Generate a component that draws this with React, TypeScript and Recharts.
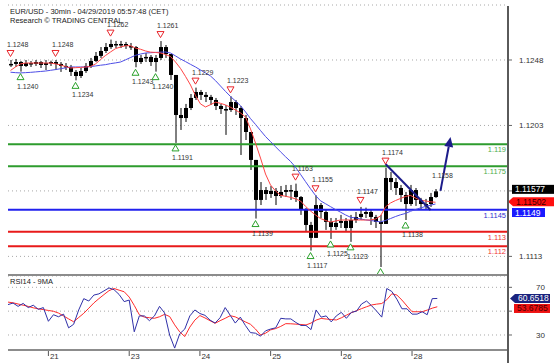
import React from 'react'
import { ComposedChart, Bar, Line, XAxis, YAxis, CartesianGrid, ReferenceLine } from 'recharts'

// EUR/USD 30min candles, sampled at a coarser step (close / high / low)
const CLOSE = [
  1.12453, 1.12466, 1.12439, 1.12459, 1.12453, 1.12466, 1.12446, 1.12459, 1.12466, 1.12453,
  1.12439, 1.12432, 1.12398, 1.1237, 1.12404, 1.12439, 1.12473, 1.12508, 1.12542, 1.12569,
  1.1259, 1.12583, 1.1259, 1.12576, 1.12569, 1.12466, 1.12494, 1.12501, 1.12466, 1.12494,
  1.12569, 1.12521, 1.12377, 1.12102, 1.12081, 1.1215, 1.12219, 1.1226, 1.1224, 1.12226,
  1.12205, 1.12164, 1.12143, 1.12136, 1.12191, 1.1215, 1.12081, 1.11985, 1.11793, 1.11518,
  1.11586, 1.11559, 1.1158, 1.11545, 1.11573, 1.11586, 1.1158, 1.11538, 1.11449, 1.11346,
  1.11257, 1.11483, 1.11435, 1.11367, 1.11332, 1.1136, 1.11373, 1.11325, 1.1138, 1.11401,
  1.11422, 1.11435, 1.11401, 1.11367, 1.11353, 1.11669, 1.11641, 1.116, 1.11552, 1.1149,
  1.11586, 1.11518, 1.1149, 1.1149, 1.11538, 1.11577,
]
const HIGH = [
  1.1248, 1.12487, 1.12473, 1.1248, 1.12473, 1.1248, 1.12473, 1.1248, 1.12475, 1.1248,
  1.12466, 1.12459, 1.12446, 1.12411, 1.12425, 1.12459, 1.12494, 1.12535, 1.12569, 1.12597,
  1.1262, 1.12611, 1.12611, 1.12604, 1.12597, 1.12576, 1.12514, 1.12528, 1.12514, 1.12514,
  1.1261, 1.12583, 1.12521, 1.12377, 1.1215, 1.12178, 1.12246, 1.1229, 1.12274, 1.1226,
  1.1224, 1.12219, 1.12178, 1.12171, 1.1223, 1.12205, 1.12164, 1.12102, 1.11985, 1.11793,
  1.11641, 1.11607, 1.11614, 1.116, 1.11614, 1.11621, 1.11621, 1.1163, 1.11545, 1.11463,
  1.11367, 1.1155, 1.11497, 1.11449, 1.11394, 1.11394, 1.11415, 1.11394, 1.11415, 1.11435,
  1.1147, 1.11465, 1.11449, 1.11415, 1.11415, 1.1174, 1.1171, 1.11669, 1.11621, 1.11573,
  1.11621, 1.116, 1.11532, 1.11525, 1.11566, 1.11593,
]
const LOW = [
  1.12432, 1.12432, 1.124, 1.12432, 1.12432, 1.12439, 1.12425, 1.12411, 1.12439, 1.12411,
  1.12398, 1.12411, 1.1237, 1.1234, 1.12356, 1.12391, 1.12425, 1.12466, 1.12494, 1.12528,
  1.12556, 1.12562, 1.12562, 1.12556, 1.12549, 1.1243, 1.12453, 1.12466, 1.12439, 1.124,
  1.1248, 1.12494, 1.12343, 1.1191, 1.11999, 1.12054, 1.12136, 1.12205, 1.12205, 1.12191,
  1.12171, 1.12136, 1.12109, 1.11965, 1.12123, 1.12102, 1.11827, 1.1193, 1.11724, 1.1139,
  1.11483, 1.11518, 1.11532, 1.11483, 1.11532, 1.11538, 1.11518, 1.11504, 1.11415, 1.11298,
  1.1117, 1.11257, 1.11394, 1.11312, 1.1125, 1.11312, 1.11325, 1.113, 1.1123, 1.1136,
  1.1138, 1.11394, 1.11346, 1.11325, 1.11057, 1.11353, 1.11586, 1.11552, 1.11504, 1.1138,
  1.11477, 1.11477, 1.11449, 1.11456, 1.1147, 1.11532,
]
const MA_FAST = [
  1.12408, 1.12432, 1.12453, 1.12459, 1.12459, 1.12459, 1.12459, 1.12459, 1.12459, 1.12453,
  1.12446, 1.12435, 1.12425, 1.12427, 1.12429, 1.12432, 1.12435, 1.12453, 1.12483, 1.12511,
  1.12535, 1.12558, 1.12569, 1.12578, 1.12578, 1.12562, 1.12554, 1.12542, 1.12534, 1.12532,
  1.12528, 1.12518, 1.12504, 1.12466, 1.12422, 1.12367, 1.12308, 1.12235, 1.12178, 1.12157,
  1.12173, 1.1219, 1.12182, 1.12171, 1.12155, 1.12136, 1.12116, 1.12088, 1.12006, 1.11909,
  1.11806, 1.11696, 1.11621, 1.1158, 1.1155, 1.11543, 1.11536, 1.11525, 1.11511, 1.11474,
  1.11442, 1.11415, 1.1139, 1.11377, 1.11366, 1.11373, 1.1138, 1.1138, 1.1138, 1.1138,
  1.1138, 1.1138, 1.1138, 1.11387, 1.11408, 1.1147, 1.11497, 1.11514, 1.11528, 1.11542,
  1.11549, 1.11531, 1.11516, 1.11511, 1.11505, 1.11502,
]
const MA_SLOW = [
  1.12396, 1.12393, 1.12391, 1.12393, 1.12395, 1.12398, 1.12401, 1.12404, 1.12409, 1.12414,
  1.1242, 1.12426, 1.12432, 1.12432, 1.12432, 1.12432, 1.12435, 1.12439, 1.12444, 1.12448,
  1.12455, 1.1246, 1.12466, 1.12481, 1.12497, 1.12512, 1.12521, 1.12528, 1.1253, 1.12532,
  1.12534, 1.12535, 1.12528, 1.12508, 1.12487, 1.12469, 1.1245, 1.12432, 1.12411, 1.12391,
  1.1237, 1.12338, 1.12301, 1.12264, 1.12229, 1.12198, 1.12166, 1.12123, 1.12077, 1.12037,
  1.11995, 1.11954, 1.11919, 1.11884, 1.11849, 1.11815, 1.11783, 1.11743, 1.11694, 1.11644,
  1.11595, 1.11549, 1.11512, 1.11492, 1.11472, 1.11452, 1.11434, 1.11415, 1.11399, 1.11394,
  1.11387, 1.11381, 1.11377, 1.11372, 1.11367, 1.11377, 1.1139, 1.11404, 1.11416, 1.11425,
  1.1144, 1.11452, 1.11463, 1.11473, 1.11482, 1.1149,
]
const RSI = [
  55.5, 56.8, 54, 56.5, 53, 55, 51.5, 53, 41.5, 47,
  45.3, 47.5, 36, 39, 51, 60.5, 58.5, 63.5, 64.5, 67,
  69.5, 68, 64, 58, 59.3, 32.7, 46, 46, 42, 46,
  54, 48.5, 30, 19, 31, 35, 46, 51, 48, 46.5,
  42.5, 40, 44.5, 53, 46.5, 40, 45, 38, 32, 31.5,
  29, 33.5, 35, 36, 44, 43.5, 43.5, 40.5, 38, 38,
  34.5, 51, 45, 46, 41, 46, 49, 44, 49, 50,
  56, 58.5, 54.5, 50, 45, 69, 66.5, 60, 52, 52,
  47.5, 47.5, 49.5, 47, 60.5, 60.6518,
]
const RSI_MA = [
  57.6, 57, 56, 55, 54, 52.8, 52, 51.3, 50.6, 49.9,
  48.4, 46, 43.5, 41.1, 44.7, 48.2, 52.5, 56.9, 60.5, 63.9,
  67.2, 69, 67.6, 66.3, 61.8, 54.8, 47, 45, 44.5, 44,
  45.3, 47.3, 45.5, 38.5, 32.6, 28.7, 36.6, 42.5, 46.3, 44.3,
  42, 39.8, 42, 44, 46.2, 45.2, 43.1, 41, 39, 35,
  30, 31.5, 34.3, 35.4, 37.2, 39.5, 39.4, 39.1, 38.8, 38.4,
  40, 42.5, 43.9, 43.4, 43, 42.6, 44.4, 46.6, 48.7, 50.4,
  52.1, 53.7, 55.2, 55.9, 56.4, 59.6, 64.6, 63.5, 59.3, 54.3,
  49.5, 49.5, 49.5, 50.9, 52.5, 53.6785,
]

// swing highs / lows flagged on the chart
const PEAK_IDX = [0, 9, 20, 30, 37, 44, 57, 61, 70, 75, 85]
const PEAK_PRICE = [1.1248, 1.1248, 1.1262, 1.1261, 1.1229, 1.1223, 1.1163, 1.1155, 1.1147, 1.1174, 1.1158]
const PEAK_TRIANGLE = [true, true, true, true, true, true, true, true, true, true, false]
const TROUGH_IDX = [2, 13, 25, 29, 33, 49, 60, 64, 68, 74, 79]
const TROUGH_PRICE = [1.124, 1.1234, 1.1243, 1.124, 1.1191, 1.1139, 1.1117, 1.1125, 1.1123, 1.1106, 1.1138]
const TROUGH_LABELS = ['1.1240', '1.1234', '1.1243', '1.1240', '1.1191', '1.1139', '1.1117', '1.1125', '1.1123', '', '1.1138']

// key levels
const LEVEL_VALUES = [1.119, 1.1175, 1.1145, 1.113, 1.112]
const LEVEL_LABELS = ['1.119', '1.1175', '1.1145', '1.113', '1.112']
const LEVEL_COLORS = ['#2e9c2e', '#2e9c2e', '#2121ee', '#e81a1a', '#e81a1a']
const LEVEL_TEXT_COLORS = ['#4fae4f', '#4fae4f', '#3030d0', '#f03434', '#f03434']

// triangle breakout + projection
const TRI_LINE = [{ x: 75, y: 1.11765 }, { x: 84, y: 1.11449 }]
const PROJECTION = [{ x: 86, y: 1.1158 }, { x: 88, y: 1.11951 }]

const SLOTS = 100
const DAY_TICKS = [8, 24, 38, 52, 66, 80]
const DAY_LABELS = ['21', '23', '24', '25', '26', '28']
const PRICE_TICKS = [1.1113, 1.1158, 1.1203, 1.1248]
const PRICE_TICK_LABELS = ['1.1113', '', '1.1203', '1.1248']
const RSI_TICKS = [30, 50, 70]
const RSI_TICK_LABELS = ['30', '', '70']

const FONT = '"Liberation Sans", Arial, sans-serif'
const NAVY = '#1c1c8a'
const GREEN = '#2aa12a'
const RED = '#e8262c'

const peakAt = new Map(PEAK_IDX.map((idx, k) => [idx, k]))
const troughAt = new Map(TROUGH_IDX.map((idx, k) => [idx, k]))

const rows = Array.from({ length: SLOTS }, (_, i) => {
  const live = i < CLOSE.length
  const pk = peakAt.get(i)
  const tr = troughAt.get(i)
  return {
    i,
    open: live ? CLOSE[Math.max(i - 1, 0)] : null,
    close: live ? CLOSE[i] : null,
    range: live ? [LOW[i], HIGH[i]] : null,
    fast: live ? MA_FAST[i] : null,
    slow: live ? MA_SLOW[i] : null,
    rsi: live ? RSI[i] : null,
    rsiMa: live ? RSI_MA[i] : null,
    pk: pk != null ? PEAK_PRICE[pk] : null,
    pkLabel: pk != null ? PEAK_PRICE[pk].toFixed(4) : '',
    pkTri: pk != null ? PEAK_TRIANGLE[pk] : false,
    tr: tr != null ? TROUGH_PRICE[tr] : null,
    trLabel: tr != null ? TROUGH_LABELS[tr] : '',
  }
})

function Candle(props: any) {
  const { x, y, width, height, payload } = props
  if (!payload || payload.range == null || y == null || height == null) return <g />
  const [lo, hi] = payload.range
  const top = Math.min(y, y + height)
  const h = Math.abs(height)
  const span = hi - lo || 1e-9
  const py = (v: number) => top + ((hi - v) / span) * h
  const cx = x + width / 2
  const b1 = Math.min(py(payload.open), py(payload.close))
  const b2 = Math.max(py(payload.open), py(payload.close))
  return (
    <g>
      <line x1={cx} x2={cx} y1={top} y2={top + h} stroke="#000" strokeWidth={1} />
      <rect x={cx - 2} y={b1} width={4} height={Math.max(b2 - b1, 1.5)} fill="#000" />
    </g>
  )
}

function PeakMark(props: any) {
  const { cx, cy, payload, index } = props
  if (cy == null || !payload || payload.pk == null) return <g key={`pk-${index}`} />
  const ty = cy - 6.5
  return (
    <g key={`pk-${index}`}>
      {payload.pkTri && (
        <polygon
          points={`${cx - 3.5},${ty - 3} ${cx + 3.5},${ty - 3} ${cx},${ty + 3}`}
          fill="#fff"
          stroke={RED}
          strokeWidth={1}
        />
      )}
      <text x={cx - 3.5} y={cy - 13} fontSize={7} fill="#333">{payload.pkLabel}</text>
    </g>
  )
}

function TroughMark(props: any) {
  const { cx, cy, payload, index } = props
  if (cy == null || !payload || payload.tr == null) return <g key={`tr-${index}`} />
  const ty = cy + 5
  return (
    <g key={`tr-${index}`}>
      <polygon
        points={`${cx - 3.5},${ty + 3} ${cx + 3.5},${ty + 3} ${cx},${ty - 3}`}
        fill="#fff"
        stroke={GREEN}
        strokeWidth={1}
      />
      <text x={cx - 3.5} y={cy + 17} fontSize={7} fill="#333">{payload.trLabel}</text>
    </g>
  )
}

function ArrowShape(props: any) {
  const { x1, y1, x2, y2 } = props
  const dx = x2 - x1
  const dy = y2 - y1
  const len = Math.hypot(dx, dy) || 1
  const ux = dx / len
  const uy = dy / len
  const bx = x2 - ux * 10
  const by = y2 - uy * 10
  return (
    <g>
      <line x1={x1} y1={y1} x2={bx} y2={by} stroke={NAVY} strokeWidth={2} />
      <polygon points={`${x2},${y2} ${bx - uy * 4.5},${by + ux * 4.5} ${bx + uy * 4.5},${by - ux * 4.5}`} fill={NAVY} />
    </g>
  )
}

const PriceTick = (props: any) => {
  const { x, y, payload } = props
  const k = PRICE_TICKS.indexOf(payload.value)
  return (
    <g>
      <line x1={x} x2={x + 4} y1={y} y2={y} stroke="#666" />
      <text x={x + 11} y={y + 3} fontSize={8} fill="#333">{PRICE_TICK_LABELS[k]}</text>
    </g>
  )
}

const RsiTick = (props: any) => {
  const { x, y, payload } = props
  const k = RSI_TICKS.indexOf(payload.value)
  return (
    <g>
      <line x1={x} x2={x + 4} y1={y} y2={y} stroke="#666" />
      <text x={x + 28} y={y + 3} fontSize={8} fill="#333">{RSI_TICK_LABELS[k]}</text>
    </g>
  )
}

const DayTick = (props: any) => {
  const { x, y, payload } = props
  const k = DAY_TICKS.indexOf(payload.value)
  return (
    <g>
      <line x1={x} x2={x} y1={y - 1} y2={y + 4} stroke="#555" />
      <text x={x + 1.5} y={y + 6.5} fontSize={8} fill="#333">{DAY_LABELS[k]}</text>
    </g>
  )
}

const levelLabel = (text: string, color: string) => (p: any) => {
  const vb = p.viewBox
  if (!vb) return null
  return (
    <text x={vb.x + vb.width - 2} y={vb.y + 8} textAnchor="end" fontSize={7.5} fill={color}>
      {text}
    </text>
  )
}

// value tags sitting on the right axis
const tag = (text: string, bg: string, fg: string, w: number, dy: number, pointer: boolean, gap: number) => (p: any) => {
  const vb = p.viewBox
  if (!vb) return null
  const ax = vb.x + vb.width
  const cy = vb.y + dy
  const left = ax + gap
  return (
    <g>
      {pointer ? (
        <polygon
          points={`${left},${cy} ${left + 5},${cy - 4.5} ${left + w},${cy - 4.5} ${left + w},${cy + 4.5} ${left + 5},${cy + 4.5}`}
          fill={bg}
        />
      ) : (
        <rect x={left} y={cy - 4.5} width={w} height={9} fill={bg} />
      )}
      <text x={left + (pointer ? 8 : 3)} y={cy + 3} fontSize={8.5} fill={fg}>{text}</text>
    </g>
  )
}

export default function App() {
  const lastClose = CLOSE[CLOSE.length - 1]
  const lastFast = MA_FAST[MA_FAST.length - 1]
  const lastSlow = MA_SLOW[MA_SLOW.length - 1]
  const lastRsi = RSI[RSI.length - 1]
  const lastRsiMa = RSI_MA[RSI_MA.length - 1]

  return (
    <div style={{ position: 'absolute', left: 0, top: 0, width: 554, height: 363, background: '#fff', fontFamily: FONT, overflow: 'hidden' }}>
      <div style={{ position: 'absolute', left: 0, top: 0 }}>
        <ComposedChart width={554} height={276} data={rows} margin={{ top: 5, right: 0, bottom: 1, left: 8 }}>
          <CartesianGrid vertical={false} stroke="#a8a8a8" strokeDasharray="1 3" />
          <XAxis dataKey="i" hide />
          <YAxis
            orientation="right"
            width={46}
            domain={[1.11002, 1.12858]}
            allowDataOverflow
            ticks={PRICE_TICKS}
            interval={0}
            axisLine={false}
            tickLine={false}
            tickSize={0}
            tickMargin={0}
            tick={<PriceTick />}
          />
          {LEVEL_VALUES.map((v, k) => (
            <ReferenceLine
              key={`lv${k}`}
              y={v}
              stroke={LEVEL_COLORS[k]}
              strokeWidth={2}
              label={levelLabel(LEVEL_LABELS[k], LEVEL_TEXT_COLORS[k])}
            />
          ))}
          <Bar dataKey="range" barSize={4} shape={<Candle />} isAnimationActive={false} />
          <Line dataKey="slow" stroke="#4d4de6" strokeWidth={1} dot={false} activeDot={false} isAnimationActive={false} />
          <Line dataKey="fast" stroke="#ff4545" strokeWidth={1} dot={false} activeDot={false} isAnimationActive={false} />
          <Line dataKey="pk" stroke="none" dot={PeakMark} activeDot={false} isAnimationActive={false} />
          <Line dataKey="tr" stroke="none" dot={TroughMark} activeDot={false} isAnimationActive={false} />
          <ReferenceLine segment={TRI_LINE} stroke={NAVY} strokeWidth={2} />
          <ReferenceLine segment={PROJECTION} shape={ArrowShape} />
          <ReferenceLine y={lastClose} stroke="none" label={tag(lastClose.toFixed(5), '#000', '#fff', 42, -2, false, 4)} />
          <ReferenceLine y={lastFast} stroke="none" label={tag(lastFast.toFixed(5), '#ff0f0f', '#3a0000', 46, -0.5, true, 0)} />
          <ReferenceLine y={lastSlow} stroke="none" label={tag(lastSlow.toFixed(4), '#1a1aff', '#fff', 33, 8.5, false, 4)} />
        </ComposedChart>
      </div>

      <div style={{ position: 'absolute', left: 0, top: 276 }}>
        <ComposedChart width={554} height={87} data={rows} margin={{ top: 0, right: 0, bottom: 0, left: 8 }}>
          <CartesianGrid vertical={false} stroke="#a8a8a8" strokeDasharray="1 3" />
          <XAxis
            dataKey="i"
            ticks={DAY_TICKS}
            interval={0}
            height={13}
            tickLine={false}
            tickSize={0}
            tickMargin={2}
            axisLine={{ stroke: '#8c8c8c', strokeWidth: 2 }}
            tick={<DayTick />}
          />
          <YAxis
            orientation="right"
            width={46}
            domain={[17.4, 79.5]}
            allowDataOverflow
            ticks={RSI_TICKS}
            interval={0}
            axisLine={false}
            tickLine={false}
            tickSize={0}
            tickMargin={0}
            tick={<RsiTick />}
          />
          <Line dataKey="rsiMa" stroke="#ff2a2a" strokeWidth={1} dot={false} activeDot={false} isAnimationActive={false} />
          <Line dataKey="rsi" stroke="#3030a8" strokeWidth={1} dot={false} activeDot={false} isAnimationActive={false} />
          <ReferenceLine y={lastRsi} stroke="none" label={tag(lastRsi.toFixed(4), '#1a237e', '#fff', 40, 0, true, 2)} />
          <ReferenceLine y={lastRsiMa} stroke="none" label={tag(lastRsiMa.toFixed(4), '#ee1111', '#4a0000', 36, 1.7, false, 6)} />
        </ComposedChart>
      </div>

      <div style={{ position: 'absolute', left: 8, top: 274, width: 500, height: 2, background: '#8c8c8c' }} />
      <div style={{ position: 'absolute', left: 507, top: 6, width: 2, height: 357, background: '#5a5a5a' }} />

      <div style={{ position: 'absolute', left: 10, top: 7, fontSize: 7.5, lineHeight: '9px', color: '#222', whiteSpace: 'nowrap' }}>
        EUR/USD - 30min - 04/29/2019 05:57:48 (CET)
      </div>
      <div style={{ position: 'absolute', left: 10, top: 16, fontSize: 7.5, lineHeight: '9px', color: '#222', whiteSpace: 'nowrap' }}>
        Research © TRADING CENTRAL
      </div>
      <div style={{ position: 'absolute', left: 10, top: 277, fontSize: 7.5, lineHeight: '9px', color: '#222', whiteSpace: 'nowrap' }}>
        RSI14 - 9MA
      </div>
    </div>
  )
}
